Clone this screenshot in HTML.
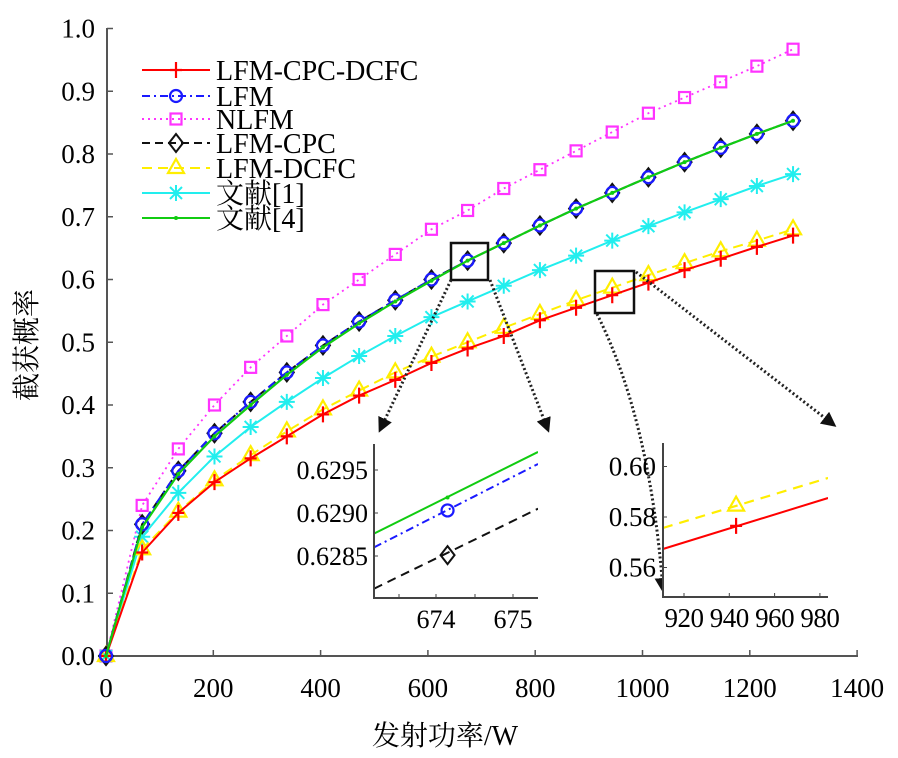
<!DOCTYPE html>
<html><head><meta charset="utf-8"><style>
body{margin:0;background:#fff;}
svg{display:block;font-family:"Liberation Serif","Noto Serif CJK SC",serif;}
</style></head><body>
<svg id="c" width="898" height="758" viewBox="0 0 898 758"></svg>
<script>
const xValues=[0,67.4,134.8,202.2,269.6,337,404.4,471.8,539.2,606.6,674,741.4,808.8,876.2,943.6,1011,1078.4,1145.8,1213.2,1280.6];
const serNLFM=[0,.24,.33,.40,.46,.51,.56,.60,.64,.68,.71,.745,.775,.805,.835,.865,.89,.915,.94,.967];
const serLFM=[0,.21,.295,.355,.405,.452,.495,.533,.567,.6,.63,.658,.686,.713,.738,.763,.787,.81,.832,.853];
const serCPC=[0,.21,.295,.355,.405,.452,.495,.533,.567,.6,.63,.658,.686,.713,.738,.763,.787,.81,.832,.853];
const serRef4=[0,.205,.29,.35,.40,.448,.492,.53,.565,.598,.63,.658,.686,.713,.738,.763,.787,.81,.832,.853];
const serRef1=[0,.19,.26,.318,.365,.405,.443,.478,.51,.54,.565,.59,.615,.638,.662,.685,.707,.728,.749,.768];
const serDCFC=[0,.17,.23,.28,.32,.358,.393,.423,.452,.477,.5,.523,.545,.567,.587,.607,.626,.645,.662,.68];
const serCPCDCFC=[0,.165,.228,.277,.315,.35,.385,.415,.44,.467,.49,.51,.535,.555,.575,.595,.615,.633,.652,.67];
const xTicks=[0,200,400,600,800,1000,1200,1400];
const yTicks=[0,.1,.2,.3,.4,.5,.6,.7,.8,.9,1.0];
// inset 1 data
const in1X=[673.195,675.325];
const in1Green=[0.62876,0.62971];
const in1Blue=[0.62860,0.62957];
const in1Black=[0.62812,0.62905];
const in1Mark=[674.15];
const in1MarkBlue=[0.62903];const in1MarkBlack=[0.62851];const in1MarkGreen=[0.62918];
const in1XTicks=[674,675];const in1YTicks=[0.6285,0.6290,0.6295];
// inset 2 data
const in2X=[910.7,983.6];
const in2Yellow=[0.57564,0.59545];
const in2Red=[0.56733,0.58752];
const in2MarkX=[943];const in2MarkYellow=[0.5845];const in2MarkRed=[0.5765];
const in2XTicks=[920,940,960,980];const in2YTicks=[0.56,0.58,0.60];

const NS="http://www.w3.org/2000/svg";const svg=document.getElementById('c');
function el(t,a,p){const e=document.createElementNS(NS,t);for(const k in a)e.setAttribute(k,a[k]);(p||svg).appendChild(e);return e;}
const X=v=>106+v*(107.3/200), Y=v=>656-v*627.5;
let g=el('g',{});


el('line',{x1:107,y1:28,x2:107,y2:656,stroke:'#555','stroke-width':2},g);
el('line',{x1:107,y1:656,x2:858,y2:656,stroke:'#555','stroke-width':2},g);
xTicks.forEach(v=>{el('line',{x1:X(v),y1:656,x2:X(v),y2:650,stroke:'#555','stroke-width':1.5},g);
 const t=el('text',{x:X(v),y:697,'font-size':27,'text-anchor':'middle'},g);t.textContent=v;
 
 });
yTicks.forEach(v=>{el('line',{x1:107,y1:Y(v),x2:113,y2:Y(v),stroke:'#555','stroke-width':1.5},g);
 const t=el('text',{x:95,y:Y(v)+9,'font-size':27,'text-anchor':'end'},g);t.textContent=v.toFixed(1);
 
 });
let t=el('text',{x:445,y:745,'font-size':28,'text-anchor':'middle'});t.textContent='发射功率/W';


t=el('text',{x:0,y:0,'font-size':28,'text-anchor':'middle',transform:'translate(36,345) rotate(-90)'});t.textContent='截获概率';



function marker(type,x,y,color,p){
 if(type==='plus'){el('path',{d:`M${x-6} ${y}H${x+6}M${x} ${y-8}V${y+8}`,stroke:color,'stroke-width':2.2,fill:'none'},p);}
 else if(type==='circle'){el('circle',{cx:x,cy:y,r:6,stroke:color,'stroke-width':2.2,fill:'none'},p);}
 else if(type==='square'){el('rect',{x:x-5.5,y:y-5.5,width:11,height:11,stroke:color,'stroke-width':2.2,fill:'none'},p);}
 else if(type==='diamond'){el('path',{d:`M${x} ${y-9}L${x+7} ${y}L${x} ${y+9}L${x-7} ${y}Z`,stroke:color,'stroke-width':2,fill:'none'},p);}
 else if(type==='tri'){el('path',{d:`M${x} ${y-9}L${x+8} ${y+5}L${x-8} ${y+5}Z`,stroke:color,'stroke-width':2.2,fill:'none'},p);}
 else if(type==='star'){el('path',{d:`M${x-8} ${y}H${x+8}M${x} ${y-8}V${y+8}M${x-6} ${y-6}L${x+6} ${y+6}M${x-6} ${y+6}L${x+6} ${y-6}`,stroke:color,'stroke-width':2,fill:'none'},p);}
 else if(type==='dot'){el('circle',{cx:x,cy:y,r:2,fill:color},p);}
}
const series=[
 {name:'series-nlfm',data:serNLFM,color:'#ff33ff',dash:'2 4',m:'square',w:1.8},
 {name:'series-ref1',data:serRef1,color:'#22eeee',dash:'',m:'star',w:2},
 {name:'series-lfm-dcfc',data:serDCFC,color:'#ffee00',dash:'10 6',m:'tri',w:2},
 {name:'series-lfm-cpc-dcfc',data:serCPCDCFC,color:'#ff0000',dash:'',m:'plus',w:2},
 {name:'series-lfm-cpc',data:serCPC,color:'#111',dash:'8 5',m:'diamond',w:2},
 {name:'series-lfm',data:serLFM,color:'#1a1aff',dash:'8 4 2 4',m:'circle',w:2},
 {name:'series-ref4',data:serRef4,color:'#11cc11',dash:'',m:'dot',w:2.2},
];
series.forEach(s=>{const sg=el('g',{});
 
 
 el('polyline',{points:xValues.map((x,i)=>X(x)+','+Y(s.data[i])).join(' '),fill:'none',stroke:s.color,'stroke-width':s.w,'stroke-dasharray':s.dash},sg);
 xValues.forEach((x,i)=>marker(s.m,X(x),Y(s.data[i]),s.color,sg));});

const leg=[['LFM-CPC-DCFC','#ff0000','','plus'],['LFM','#1a1aff','8 4 2 4','circle'],['NLFM','#ff33ff','2 4','square'],['LFM-CPC','#111','8 5','diamond'],['LFM-DCFC','#ffee00','10 6','tri'],['文献[1]','#22eeee','','star'],['文献[4]','#11cc11','','dot']];
const lg=el('g',{});


const legY=[70,96,119,143,168,193,218];
leg.forEach((l,i)=>{const y=legY[i];const e=el('g',{},lg);
 
 
 el('line',{x1:142,y1:y,x2:210,y2:y,stroke:l[1],'stroke-width':2,'stroke-dasharray':l[2]},e);
 marker(l[3],176,y,l[1],e);
 const tt=el('text',{x:216,y:y+10,'font-size':28},e);tt.textContent=l[0];});

const zg=el('g',{});


el('rect',{x:451,y:243,width:37,height:37,fill:'none',stroke:'#111','stroke-width':2.5},zg);
el('rect',{x:595,y:271,width:39,height:42,fill:'none',stroke:'#111','stroke-width':2.5},zg);
el('defs',{},zg).innerHTML='<marker id="ah" viewBox="0 0 10 10" refX="8" refY="5" markerWidth="5" markerHeight="5" orient="auto"><path d="M0 0L10 5L0 10Z" fill="#111"/></marker><clipPath id="cp1"><rect x="374" y="444" width="164" height="154"/></clipPath><clipPath id="cp2"><rect x="663" y="443" width="165" height="154"/></clipPath>';
[['M451 280 L380 430'],['M490 280 L548 430'],['M597 314 Q650 420 663 590'],['M636 272 L834 425']].forEach(d=>el('path',{d:d[0],fill:'none',stroke:'#222','stroke-width':3,'stroke-dasharray':'2 2.5','marker-end':'url(#ah)'},zg));

const i1=el('g',{});


el('rect',{x:374,y:444,width:164,height:154,fill:'#fff'},i1);
const X1=v=>436+(v-674)*77, Y1=v=>513-(v-0.6290)*(43/0.0005);
const c1=el('g',{'clip-path':'url(#cp1)'},i1);
el('path',{d:'M374 444V598H538',fill:'none',stroke:'#444','stroke-width':2},i1);
[399,436,475,513].forEach(x=>el('line',{x1:x,y1:598,x2:x,y2:594,stroke:'#444'},i1));
in1XTicks.forEach(v=>{const tt=el('text',{x:X1(v),y:628,'font-size':26,'text-anchor':'middle'},i1);tt.textContent=v;});
in1YTicks.forEach(v=>{el('line',{x1:374,y1:Y1(v),x2:378,y2:Y1(v),stroke:'#444'},i1);const tt=el('text',{x:368,y:Y1(v)+9,'font-size':26,'text-anchor':'end'},i1);tt.textContent=v.toFixed(4);});
el('line',{x1:X1(in1X[0]),y1:Y1(in1Green[0]),x2:X1(in1X[1]),y2:Y1(in1Green[1]),stroke:'#11cc11','stroke-width':2},c1);
el('line',{x1:X1(in1X[0]),y1:Y1(in1Blue[0]),x2:X1(in1X[1]),y2:Y1(in1Blue[1]),stroke:'#1a1aff','stroke-width':2,'stroke-dasharray':'8 4 2 4'},c1);
el('line',{x1:X1(in1X[0]),y1:Y1(in1Black[0]),x2:X1(in1X[1]),y2:Y1(in1Black[1]),stroke:'#111','stroke-width':2,'stroke-dasharray':'9 6'},c1);
marker('circle',X1(in1Mark[0]),Y1(in1MarkBlue[0]),'#1a1aff',i1);
marker('diamond',X1(in1Mark[0]),Y1(in1MarkBlack[0]),'#111',i1);
marker('dot',X1(in1Mark[0]),Y1(in1MarkGreen[0]),'#11cc11',i1);

const i2=el('g',{});


el('rect',{x:663,y:443,width:165,height:154,fill:'#fff'},i2);
const X2=v=>684+(v-920)*(45.3/20), Y2=v=>517-(v-0.58)*(50.5/0.02);
const c2=el('g',{'clip-path':'url(#cp2)'},i2);
el('path',{d:'M663 443V597H828',fill:'none',stroke:'#444','stroke-width':2},i2);
in2XTicks.forEach(v=>{el('line',{x1:X2(v),y1:597,x2:X2(v),y2:593,stroke:'#444'},i2);const tt=el('text',{x:X2(v),y:627,'font-size':27,'text-anchor':'middle','letter-spacing':'-0.5'},i2);tt.textContent=v;});
in2YTicks.forEach(v=>{el('line',{x1:663,y1:Y2(v),x2:667,y2:Y2(v),stroke:'#444'},i2);const tt=el('text',{x:656,y:Y2(v)+9,'font-size':27,'text-anchor':'end'},i2);tt.textContent=v.toFixed(2);});
el('line',{x1:X2(in2X[0]),y1:Y2(in2Yellow[0]),x2:X2(in2X[1]),y2:Y2(in2Yellow[1]),stroke:'#ffee00','stroke-width':2.2,'stroke-dasharray':'10 7'},c2);
el('line',{x1:X2(in2X[0]),y1:Y2(in2Red[0]),x2:X2(in2X[1]),y2:Y2(in2Red[1]),stroke:'#ff0000','stroke-width':2},c2);
marker('tri',X2(in2MarkX[0]),Y2(in2MarkYellow[0]),'#ffee00',i2);
marker('plus',X2(in2MarkX[0]),Y2(in2MarkRed[0]),'#ff0000',i2);
</script>
</body></html>
